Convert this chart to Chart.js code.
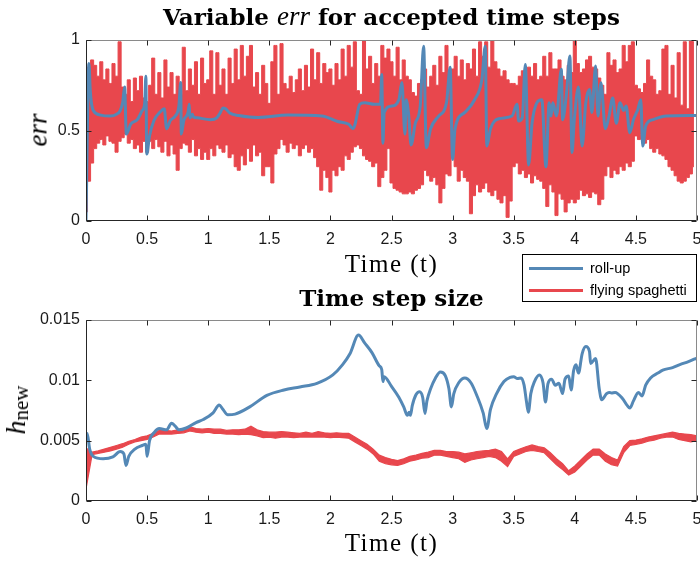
<!DOCTYPE html>
<html>
<head>
<meta charset="utf-8">
<script src="https://cdn.jsdelivr.net/npm/chart.js@4.4.0/dist/chart.umd.min.js"></script>
<style>
  body { margin: 0; background: #fff; }
  #wrap { position: relative; width: 700px; height: 563px; overflow: hidden; background: #fff; }
  canvas { position: absolute; left: 0; }
  .txt { position: absolute; white-space: nowrap; color: #000; }
  .title { left: 86px; width: 611px; text-align: center; font-family: "DejaVu Serif", serif; font-weight: bold; font-size: 23px; line-height: 23px; }
  .title i { font-family: "Liberation Serif", serif; font-weight: normal; font-size: 27px; }
  .xlab { left: 86px; width: 611px; text-align: center; font-family: "Liberation Serif", serif; font-size: 25px; line-height: 25px; letter-spacing: 1.5px; }
  .ylab { font-family: "Liberation Serif", serif; transform: translate(-50%, -50%) rotate(-90deg); }
  #legend { position: absolute; left: 522px; top: 254px; width: 175px; height: 48px; box-sizing: border-box; border: 1px solid #000; background: #fff; font-family: "Liberation Sans", Arial, sans-serif; font-size: 14.5px; }
  #legend .item { position: absolute; left: 6px; height: 20px; line-height: 20px; }
  #legend .sw { display: inline-block; width: 54px; height: 3px; vertical-align: middle; margin-right: 7px; position: relative; top: -1px; }
</style>
</head>
<body>
<div id="wrap">
  <canvas id="errChart" width="700" height="280" style="top:0"></canvas>
  <canvas id="hChart" width="700" height="283" style="top:280px"></canvas>

  <div class="txt title" style="top:5px">Variable <i>err</i> for accepted time steps</div>
  <div class="txt xlab" style="top:251px">Time (t)</div>
  <div class="txt ylab" style="left:38px; top:130px; font-size:27px; font-style:italic">err</div>

  <div class="txt title" style="top:286px">Time step size</div>
  <div class="txt xlab" style="top:530px">Time (t)</div>
  <div class="txt ylab" style="left:16px; top:410px"><i style="font-size:28px">h</i><span style="font-size:21px; position:relative; top:3px">new</span></div>

  <div id="legend">
    <div class="item" style="top:3px"><span class="sw" style="background:#5488b6"></span>roll-up</div>
    <div class="item" style="top:25px"><span class="sw" style="background:#e8474d"></span>flying spaghetti</div>
  </div>
</div>

<script>
// x axis (shared)
const xTicks = [0, 0.5, 1, 1.5, 2, 2.5, 3, 3.5, 4, 4.5, 5];
const xTickLabels = ["0", "0.5", "1", "1.5", "2", "2.5", "3", "3.5", "4", "4.5", "5"];

// top plot ticks
const errTicks = [0, 0.5, 1];
const errTickLabels = ["0", "0.5", "1"];
// bottom plot ticks
const hTicks = [0, 0.005, 0.01, 0.015];
const hTickLabels = ["0", "0.005", "0.01", "0.015"];

const seriesNames = ["roll-up", "flying spaghetti"];
const blue = "#5488b6";
const red = "#e8474d";

// roll-up err (time, value)
const errBlueT = [0, 0.024, 0.035, 0.044, 0.06, 0.12, 0.2, 0.25, 0.28, 0.30, 0.316, 0.33, 0.366, 0.42, 0.46, 0.48, 0.49, 0.497, 0.52, 0.556,
  0.61, 0.64, 0.66, 0.69, 0.73, 0.76, 0.775, 0.78, 0.80, 0.835, 0.845, 0.85, 0.87, 0.88, 0.91, 1.02, 1.07, 1.1, 1.12, 1.14,
  1.18, 1.25, 1.41, 1.65, 1.93, 2.06, 2.15, 2.185, 2.2, 2.24, 2.28, 2.36, 2.41, 2.42, 2.43, 2.44, 2.5, 2.56, 2.585, 2.61,
  2.62, 2.64, 2.66, 2.695, 2.735, 2.763, 2.785, 2.82, 2.886, 2.95, 2.98, 3.0, 3.02, 3.1, 3.18, 3.24, 3.267, 3.28, 3.31, 3.377,
  3.486, 3.527, 3.54, 3.57, 3.595, 3.622, 3.65, 3.69, 3.73, 3.764, 3.79, 3.805, 3.82, 3.85, 3.89, 3.9, 3.93, 3.96, 3.977, 3.996,
  4.03, 4.06, 4.09, 4.12, 4.14, 4.17, 4.19, 4.214, 4.25, 4.28, 4.31, 4.34, 4.37, 4.40, 4.42, 4.45, 4.48, 4.515, 4.54, 4.556,
  4.58, 4.64, 4.75, 5.0];
const errBlueV = [0, 0.87, 0.72, 0.655, 0.61, 0.585, 0.58, 0.59, 0.61, 0.655, 0.74, 0.48, 0.535, 0.56, 0.61, 0.65, 0.80, 0.37, 0.47, 0.555,
  0.605, 0.62, 0.51, 0.555, 0.58, 0.635, 0.765, 0.48, 0.555, 0.6, 0.645, 0.57, 0.59, 0.575, 0.57, 0.56, 0.57, 0.6, 0.625, 0.622,
  0.595, 0.583, 0.572, 0.585, 0.58, 0.55, 0.534, 0.51, 0.53, 0.645, 0.654, 0.645, 0.645, 0.81, 0.43, 0.6, 0.635, 0.67, 0.765, 0.48,
  0.67, 0.59, 0.42, 0.54, 0.635, 0.965, 0.405, 0.51, 0.58, 0.654, 0.85, 0.34, 0.51, 0.6, 0.67, 0.783, 0.965, 0.414, 0.51, 0.565,
  0.58, 0.645, 0.553, 0.57, 0.865, 0.31, 0.54, 0.654, 0.67, 0.30, 0.654, 0.58, 0.654, 0.58, 0.838, 0.56, 0.69, 0.911, 0.378, 0.56,
  0.74, 0.414, 0.654, 0.727, 0.60, 0.856, 0.58, 0.764, 0.51, 0.58, 0.68, 0.54, 0.654, 0.61, 0.635, 0.488, 0.56, 0.615, 0.67, 0.414,
  0.525, 0.56, 0.58, 0.583];

// flying spaghetti err: upper and lower extent of the oscillation every 0.025 time units
const errStep = 0.025;
const errHigh = [
  0.60, 0.85, 0.89, 0.86, 0.80, 0.88, 0.78, 0.84, 0.76, 0.87,
  0.80, 0.99, 0.74, 0.70, 0.78, 0.66, 0.79, 0.72, 0.80, 0.68,
  0.66, 0.75, 0.90, 0.70, 0.82, 0.68, 0.89, 0.74, 0.82, 0.70,
  0.80, 0.70, 0.96, 0.72, 0.84, 0.75, 0.88, 0.70, 0.90, 0.76,
  0.78, 0.94, 0.70, 0.93, 0.75, 0.84, 0.70, 0.90, 0.76, 0.95,
  0.78, 0.97, 0.80, 0.91, 0.97, 0.74, 0.82, 0.70, 0.86, 0.76,
  0.65, 0.88, 0.97, 0.70, 0.98, 0.76, 0.73, 0.80, 0.71, 0.78,
  0.84, 0.72, 0.86, 0.74, 0.95, 0.78, 0.93, 0.76, 0.87, 0.82,
  0.84, 0.75, 0.87, 0.78, 0.95, 0.80, 0.97, 0.85, 0.99, 0.72,
  0.70, 1.00, 0.84, 0.91, 0.76, 0.87, 0.80, 0.97, 0.90, 0.95,
  0.88, 0.80, 0.96, 0.78, 0.89, 0.80, 0.78, 0.71, 0.69, 0.76,
  0.78, 0.84, 0.74, 0.80, 0.86, 0.75, 0.91, 0.82, 0.97, 0.80,
  0.84, 0.91, 0.80, 0.89, 0.78, 0.87, 0.84, 0.95, 0.80, 0.99,
  0.91, 0.99, 0.85, 1.00, 0.88, 0.84, 0.80, 0.83, 0.78, 0.76,
  0.76, 0.75, 0.80, 0.83, 0.78, 0.85, 0.80, 0.87, 0.78, 0.80,
  0.91, 0.80, 0.93, 0.84, 0.84, 0.89, 0.80, 0.78, 0.86, 0.82,
  1.00, 0.87, 0.82, 0.84, 0.89, 0.91, 0.85, 0.84, 0.79, 0.75,
  0.70, 0.93, 0.86, 0.89, 0.82, 0.84, 0.97, 0.88, 0.97, 0.99,
  0.75, 0.73, 0.71, 0.76, 0.89, 0.80, 0.78, 0.70, 0.72, 0.95,
  0.97, 0.70, 0.86, 0.68, 0.93, 0.64, 0.99, 0.62, 1.00, 0.99
];
const errLow = [
  0.05, 0.22, 0.32, 0.40, 0.43, 0.45, 0.42, 0.47, 0.44, 0.43,
  0.38, 0.44, 0.46, 0.48, 0.43, 0.45, 0.40, 0.42, 0.38, 0.44,
  0.38, 0.44, 0.40, 0.45, 0.41, 0.38, 0.44, 0.36, 0.42, 0.37,
  0.28, 0.40, 0.43, 0.42, 0.38, 0.45, 0.36, 0.40, 0.34, 0.38,
  0.34, 0.40, 0.36, 0.42, 0.40, 0.38, 0.42, 0.35, 0.37, 0.30,
  0.28, 0.36, 0.31, 0.40, 0.33, 0.42, 0.36, 0.38, 0.25, 0.30,
  0.30, 0.21, 0.37, 0.40, 0.45, 0.42, 0.38, 0.43, 0.40, 0.42,
  0.36, 0.40, 0.42, 0.38, 0.40, 0.35, 0.30, 0.17, 0.28, 0.24,
  0.16, 0.28, 0.25, 0.30, 0.28, 0.36, 0.34, 0.38, 0.41, 0.42,
  0.40, 0.36, 0.34, 0.33, 0.30, 0.32, 0.19, 0.24, 0.28, 0.40,
  0.21, 0.18, 0.17, 0.16, 0.15, 0.15, 0.16, 0.15, 0.17, 0.18,
  0.20, 0.28, 0.25, 0.22, 0.24, 0.20, 0.10, 0.18, 0.26, 0.25,
  0.37, 0.30, 0.22, 0.28, 0.24, 0.22, 0.04, 0.14, 0.20, 0.16,
  0.18, 0.21, 0.16, 0.14, 0.17, 0.12, 0.10, 0.14, 0.02, 0.11,
  0.30, 0.32, 0.26, 0.28, 0.24, 0.26, 0.21, 0.25, 0.23, 0.22,
  0.18, 0.08, 0.20, 0.16, 0.03, 0.15, 0.12, 0.05, 0.10, 0.12,
  0.10, 0.12, 0.17, 0.14, 0.15, 0.13, 0.16, 0.15, 0.09, 0.12,
  0.25, 0.30, 0.24, 0.28, 0.26, 0.30, 0.28, 0.32, 0.30, 0.33,
  0.47, 0.45, 0.48, 0.43, 0.45, 0.40, 0.38, 0.40, 0.37, 0.36,
  0.34, 0.30, 0.28, 0.25, 0.22, 0.21, 0.22, 0.24, 0.26, 0.30
];

// roll-up step size (time, value)
const hBlueT = [0, 0.01, 0.03, 0.06, 0.14, 0.22, 0.28, 0.31, 0.327, 0.35, 0.4, 0.46, 0.49, 0.50, 0.52, 0.56, 0.6, 0.66, 0.7, 0.73,
  0.76, 0.82, 0.9, 0.96, 1.04, 1.09, 1.12, 1.16, 1.22, 1.34, 1.48, 1.62, 1.75, 1.89, 2.02, 2.1, 2.16, 2.23, 2.28, 2.34,
  2.4, 2.42, 2.43, 2.44, 2.5, 2.56, 2.6, 2.63, 2.645, 2.655, 2.67, 2.7, 2.73, 2.755, 2.774, 2.79, 2.82, 2.86, 2.9, 2.94,
  2.97, 2.99, 3.01, 3.05, 3.1, 3.15, 3.2, 3.25, 3.28, 3.31, 3.36, 3.42, 3.47, 3.5, 3.53, 3.56, 3.585, 3.605, 3.62, 3.64,
  3.67, 3.71, 3.74, 3.76, 3.78, 3.81, 3.84, 3.87, 3.9, 3.92, 3.95, 3.97, 3.99, 4.01, 4.03, 4.06, 4.09, 4.12, 4.13, 4.17,
  4.2, 4.22, 4.26, 4.28, 4.3, 4.33, 4.39, 4.43, 4.45, 4.48, 4.52, 4.55, 4.58, 4.62, 4.68, 4.72, 4.8, 4.86, 4.93, 5.0];
const hBlueV = [0.0055, 0.0056, 0.0043, 0.0037, 0.0035, 0.00365, 0.0041, 0.0039, 0.00295, 0.0037, 0.0043, 0.0046, 0.0047, 0.0037, 0.0050, 0.0057, 0.0060, 0.0059, 0.00645, 0.0062,
  0.0059, 0.00605, 0.0065, 0.00675, 0.0073, 0.00795, 0.0076, 0.00715, 0.0072, 0.0078, 0.00875, 0.0092, 0.00945, 0.00975, 0.01045, 0.0113, 0.0122, 0.01375, 0.0131, 0.0123,
  0.0112, 0.0109, 0.0099, 0.0103, 0.0095, 0.0086, 0.0078, 0.0071, 0.00735, 0.0071, 0.0079, 0.0088, 0.00905, 0.0086, 0.00725, 0.0083, 0.0093, 0.0102, 0.0107, 0.0104,
  0.0093, 0.0078, 0.0089, 0.0098, 0.0102, 0.0098, 0.0087, 0.0073, 0.0060, 0.0076, 0.0089, 0.0099, 0.01025, 0.0103, 0.01015, 0.0102, 0.0096, 0.0082, 0.00735, 0.0089,
  0.0099, 0.01045, 0.0098, 0.0082, 0.0097, 0.0101, 0.0096, 0.00975, 0.0089, 0.0101, 0.01035, 0.0092, 0.0108, 0.0113, 0.0106, 0.0122, 0.0128, 0.0124, 0.0114, 0.0118,
  0.0093, 0.0084, 0.0089, 0.0090, 0.00895, 0.0090, 0.0085, 0.0079, 0.0077, 0.0083, 0.0090, 0.0087, 0.0096, 0.0102, 0.0106, 0.01085, 0.01105, 0.0113, 0.01155, 0.01185];

// flying spaghetti step size: upper and lower extent of the noise every 0.05 time units
const hStep = 0.05;
const hRedHigh = [
  0.0044, 0.00405, 0.00415, 0.0043, 0.00445, 0.0046, 0.00475, 0.00495, 0.0051, 0.0053,
  0.0054, 0.0056, 0.00585, 0.00585, 0.0058, 0.0059, 0.00595, 0.00615, 0.0060, 0.00595,
  0.0060, 0.00595, 0.00595, 0.00585, 0.0059, 0.0059, 0.00595, 0.0062, 0.0059, 0.00575,
  0.0057, 0.0057, 0.00575, 0.0057, 0.00565, 0.0056, 0.0057, 0.0056, 0.00575, 0.00565,
  0.0056, 0.00565, 0.0056, 0.0056, 0.0053, 0.0050, 0.0047, 0.0043, 0.0038, 0.0036,
  0.00345, 0.00335, 0.0035, 0.0037, 0.0038, 0.00395, 0.00405, 0.0042, 0.0042, 0.0041,
  0.0041, 0.00405, 0.0039, 0.0040, 0.0041, 0.00415, 0.0042, 0.0043, 0.0041, 0.0035,
  0.0041, 0.0043, 0.0045, 0.00465, 0.0045, 0.0044, 0.0040, 0.0035, 0.0031, 0.0025,
  0.0029, 0.0034, 0.0039, 0.0043, 0.0043, 0.0039, 0.0036, 0.0034, 0.0045, 0.0050,
  0.00505, 0.00515, 0.0053, 0.0054, 0.0055, 0.0056, 0.0057, 0.0056, 0.00555, 0.0055,
  0.0054
];
const hRedLow = [
  0.0010, 0.00385, 0.00395, 0.00405, 0.00415, 0.0043, 0.00445, 0.0047, 0.0049, 0.0050,
  0.0051, 0.0053, 0.00555, 0.00555, 0.00555, 0.0056, 0.00565, 0.0058, 0.0057, 0.00565,
  0.0057, 0.0056, 0.0056, 0.00555, 0.00555, 0.0055, 0.00555, 0.0055, 0.0054, 0.00525,
  0.0053, 0.0052, 0.0053, 0.0053, 0.00525, 0.0053, 0.0053, 0.0053, 0.0053, 0.0053,
  0.00525, 0.0053, 0.00525, 0.0052, 0.0049, 0.0046, 0.0043, 0.0039, 0.0033, 0.0031,
  0.0030, 0.00295, 0.0031, 0.0033, 0.0034, 0.00355, 0.0036, 0.0038, 0.0038, 0.0037,
  0.0036, 0.0035, 0.0032, 0.0034, 0.0035, 0.0036, 0.0037, 0.0036, 0.0033, 0.00285,
  0.0037, 0.0039, 0.0041, 0.0042, 0.0041, 0.0040, 0.0035, 0.0030, 0.0026, 0.00215,
  0.0024, 0.0029, 0.0034, 0.0038, 0.0038, 0.0033, 0.0030, 0.0029, 0.0040, 0.0046,
  0.0047, 0.0048, 0.00495, 0.00505, 0.0052, 0.0053, 0.0053, 0.0051, 0.0050, 0.0049,
  0.0050
];

function onSteps(values, step) {
  return values.map((v, i) => ({ x: i * step, y: v }));
}

function pairs(ts, vs) {
  return ts.map((t, i) => ({ x: t, y: vs[i] }));
}

// MATLAB-like box with inward ticks
const boxPlugin = {
  id: "box",
  afterDatasetsDraw(chart) {
    const { ctx, chartArea: a, scales } = chart;
    const xs = scales.x, ys = scales.y;
    const L = Math.round(a.left) + 0.5, R = Math.round(a.right) - 0.5;
    const T = Math.round(a.top) + 0.5, B = Math.round(a.bottom) - 0.5;
    ctx.save();
    ctx.lineWidth = 1;
    ctx.strokeStyle = "#8a8a8a";
    ctx.beginPath();
    ctx.moveTo(L, T); ctx.lineTo(R, T); ctx.lineTo(R, B);
    ctx.stroke();
    ctx.strokeStyle = "#262626";
    ctx.beginPath();
    ctx.moveTo(L, T); ctx.lineTo(L, B); ctx.lineTo(R, B);
    const tl = 5;
    xTicks.forEach(v => {
      const px = Math.round(xs.getPixelForValue(v)) + 0.5;
      ctx.moveTo(px, B); ctx.lineTo(px, B - tl);
      ctx.moveTo(px, T); ctx.lineTo(px, T + tl);
    });
    ys.ticks.forEach(t => {
      const py = Math.round(ys.getPixelForValue(t.value)) + 0.5;
      ctx.moveTo(L, py); ctx.lineTo(L + tl, py);
      ctx.moveTo(R, py); ctx.lineTo(R - tl, py);
    });
    ctx.stroke();
    ctx.restore();
  }
};

const tickFont = { family: "'Liberation Sans', Arial, sans-serif", size: 16 };

function makeOptions(xAxisHeight, yTicks, yLabels, yMax) {
  return {
    responsive: false,
    animation: false,
    events: [],
    layout: { padding: { top: 40, right: 3, left: 0, bottom: 0 } },
    plugins: { legend: { display: false }, tooltip: { enabled: false }, title: { display: false } },
    elements: { point: { radius: 0 } },
    scales: {
      x: {
        type: "linear", min: 0, max: 5,
        grid: { display: false, drawTicks: false },
        border: { display: false },
        afterBuildTicks: s => { s.ticks = xTicks.map(v => ({ value: v })); },
        afterFit: s => { s.height = xAxisHeight; s.paddingLeft = 0; s.paddingRight = 0; },
        ticks: { font: tickFont, color: "#1a1a1a", padding: 9, maxRotation: 0, autoSkip: false,
          callback: (v, i) => xTickLabels[i] }
      },
      y: {
        type: "linear", min: 0, max: yMax,
        grid: { display: false, drawTicks: false },
        border: { display: false },
        afterBuildTicks: s => { s.ticks = yTicks.map(v => ({ value: v })); },
        afterFit: s => { s.width = 86; s.paddingTop = 0; s.paddingBottom = 0; },
        ticks: { font: tickFont, color: "#1a1a1a", padding: 6, autoSkip: false,
          callback: (v, i) => yLabels[i] }
      }
    }
  };
}

new Chart(document.getElementById("errChart"), {
  type: "line",
  data: {
    datasets: [
      { label: seriesNames[0], data: pairs(errBlueT, errBlueV), borderColor: blue, borderWidth: 3,
        cubicInterpolationMode: "monotone", fill: false },
      { label: seriesNames[1], data: onSteps(errHigh, errStep), borderColor: red, borderWidth: 1,
        stepped: "middle", fill: false },
      { label: seriesNames[1], data: onSteps(errLow, errStep), borderColor: red, borderWidth: 1,
        stepped: "middle", fill: "-1", backgroundColor: red }
    ]
  },
  options: makeOptions(59, errTicks, errTickLabels, 1),
  plugins: [boxPlugin]
});

new Chart(document.getElementById("hChart"), {
  type: "line",
  data: {
    datasets: [
      { label: seriesNames[0], data: pairs(hBlueT, hBlueV), borderColor: blue, borderWidth: 3,
        cubicInterpolationMode: "monotone", fill: false },
      { label: seriesNames[1], data: onSteps(hRedHigh, hStep), borderColor: red, borderWidth: 1.2,
        tension: 0, fill: false },
      { label: seriesNames[1], data: onSteps(hRedLow, hStep), borderColor: red, borderWidth: 1.2,
        tension: 0, fill: "-1", backgroundColor: red }
    ]
  },
  options: makeOptions(62, hTicks, hTickLabels, 0.015),
  plugins: [boxPlugin]
});
</script>
</body>
</html>
